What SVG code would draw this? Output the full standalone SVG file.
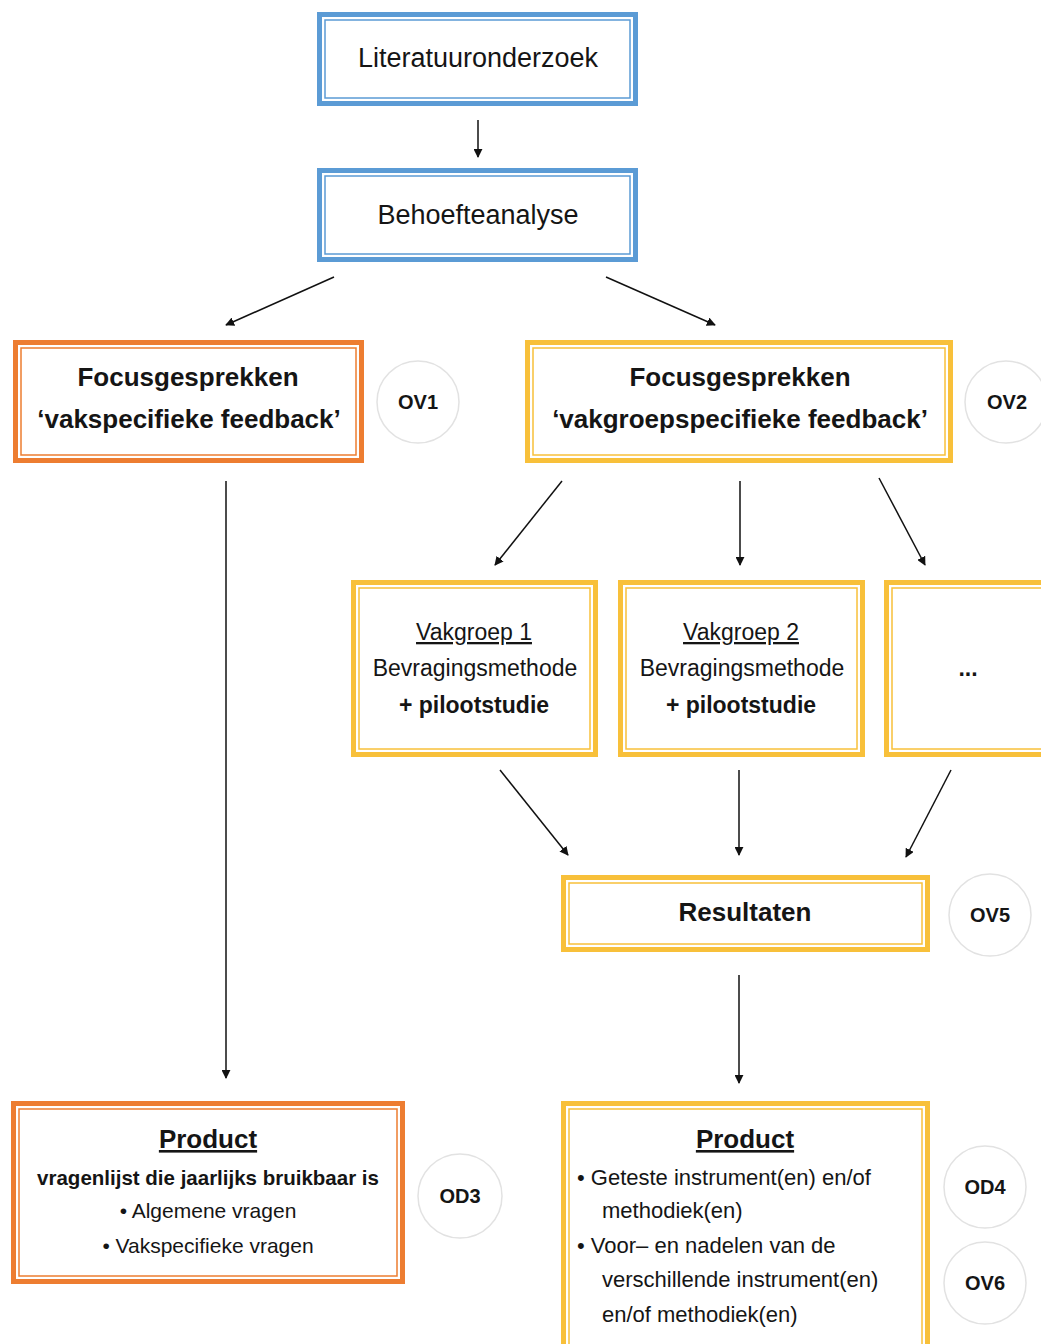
<svg xmlns="http://www.w3.org/2000/svg" width="1041" height="1344" viewBox="0 0 1041 1344">
<defs>
<marker id="ah" viewBox="0 0 10 10" refX="9" refY="5" markerWidth="9" markerHeight="9" markerUnits="userSpaceOnUse" orient="auto">
<path d="M0,0 L10,5 L0,10 Z" fill="#111"/>
</marker>
</defs>
<style>
text{font-family:"Liberation Sans",Arial,sans-serif;fill:#151515;}
.ob{fill:#fff;stroke:#5b9bd5;stroke-width:5}
.ib{fill:none;stroke:#5b9bd5;stroke-width:1.5}
.oo{fill:#fff;stroke:#ed7d31;stroke-width:5}
.io{fill:none;stroke:#ed7d31;stroke-width:1.5}
.oy{fill:#fff;stroke:#f8c03a;stroke-width:5}
.iy{fill:none;stroke:#f8c03a;stroke-width:1.5}
.c{fill:#fff;stroke:#e2e2e2;stroke-width:1.5}
.lbl{font-size:20px;font-weight:bold;text-anchor:middle}
.t27{font-size:27px;text-anchor:middle}
.h26{font-size:26px;font-weight:bold;text-anchor:middle}
.r23{font-size:23px;text-anchor:middle}
.b23{font-size:23px;font-weight:bold;text-anchor:middle}
.r21{font-size:21px}
.r22{font-size:22px}
.u{text-decoration:underline}
.cn{fill:none;stroke:#111;stroke-width:1.5;marker-end:url(#ah)}
</style>

<g id="connectors">
<line class="cn" x1="478" y1="120" x2="478" y2="157"/>
<line class="cn" x1="334" y1="277" x2="226" y2="325"/>
<line class="cn" x1="606" y1="277" x2="715" y2="325"/>
<line class="cn" x1="562" y1="481" x2="495" y2="565"/>
<line class="cn" x1="740" y1="481" x2="740" y2="565"/>
<line class="cn" x1="879" y1="478" x2="925" y2="565"/>
<line class="cn" x1="226" y1="481" x2="226" y2="1078"/>
<line class="cn" x1="500" y1="770" x2="568" y2="855"/>
<line class="cn" x1="739" y1="770" x2="739" y2="855"/>
<line class="cn" x1="951" y1="770" x2="906" y2="857"/>
<line class="cn" x1="739" y1="975" x2="739" y2="1083"/>
</g>

<g id="literatuuronderzoek">
<rect class="ob" x="319.5" y="14.5" width="316" height="89"/>
<rect class="ib" x="325" y="20" width="305" height="78"/>
<text class="t27" x="478" y="67">Literatuuronderzoek</text>
</g>

<g id="behoefteanalyse">
<rect class="ob" x="319.5" y="170.5" width="316" height="89"/>
<rect class="ib" x="325" y="176" width="305" height="78"/>
<text class="t27" x="478" y="224">Behoefteanalyse</text>
</g>

<g id="focus-vak">
<rect class="oo" x="15.5" y="342.5" width="346" height="118"/>
<rect class="io" x="21" y="348" width="335" height="107"/>
<text class="h26" x="188" y="386">Focusgesprekken</text>
<text class="h26" x="189" y="428">‘vakspecifieke feedback’</text>
</g>

<g id="ov1">
<circle class="c" cx="418" cy="402" r="41"/>
<text class="lbl" x="418" y="409">OV1</text>
</g>

<g id="focus-vakgroep">
<rect class="oy" x="527.5" y="342.5" width="423" height="118"/>
<rect class="iy" x="533" y="348" width="412" height="107"/>
<text class="h26" x="740" y="386">Focusgesprekken</text>
<text class="h26" x="740" y="428">‘vakgroepspecifieke feedback’</text>
</g>

<g id="ov2">
<circle class="c" cx="1006" cy="402" r="41"/>
<text class="lbl" x="1007" y="409">OV2</text>
</g>

<g id="vakgroep1">
<rect class="oy" x="353.5" y="582.5" width="242" height="172"/>
<rect class="iy" x="359" y="588" width="231" height="161"/>
<text class="r23 u" x="474" y="640">Vakgroep 1</text>
<text class="r23" x="475" y="676">Bevragingsmethode</text>
<text class="b23" x="474" y="713">+ pilootstudie</text>
</g>

<g id="vakgroep2">
<rect class="oy" x="620.5" y="582.5" width="242" height="172"/>
<rect class="iy" x="626" y="588" width="231" height="161"/>
<text class="r23 u" x="741" y="640">Vakgroep 2</text>
<text class="r23" x="742" y="676">Bevragingsmethode</text>
<text class="b23" x="741" y="713">+ pilootstudie</text>
</g>

<g id="vakgroep-more">
<rect class="oy" x="886.5" y="582.5" width="170" height="172"/>
<rect class="iy" x="892" y="588" width="170" height="161"/>
<text class="b23" x="968" y="676">...</text>
</g>

<g id="resultaten">
<rect class="oy" x="563.5" y="877.5" width="364" height="72"/>
<rect class="iy" x="569" y="883" width="353" height="61"/>
<text class="h26" x="745" y="921">Resultaten</text>
</g>

<g id="ov5">
<circle class="c" cx="990" cy="915" r="41"/>
<text class="lbl" x="990" y="922">OV5</text>
</g>

<g id="product-left">
<rect class="oo" x="13.5" y="1103.5" width="389" height="178"/>
<rect class="io" x="19" y="1109" width="378" height="167"/>
<text class="h26 u" x="208" y="1148">Product</text>
<text x="208" y="1185" font-size="20.5" font-weight="bold" text-anchor="middle">vragenlijst die jaarlijks bruikbaar is</text>
<text class="r21" x="208" y="1218" text-anchor="middle">• Algemene vragen</text>
<text class="r21" x="208" y="1253" text-anchor="middle">• Vakspecifieke vragen</text>
</g>

<g id="od3">
<circle class="c" cx="460" cy="1196" r="42"/>
<text class="lbl" x="460" y="1203">OD3</text>
</g>

<g id="product-right">
<rect class="oy" x="563.5" y="1103.5" width="364" height="260"/>
<rect class="iy" x="569" y="1109" width="353" height="250"/>
<text class="h26 u" x="745" y="1148">Product</text>
<text class="r22" x="577" y="1185">• Geteste instrument(en) en/of</text>
<text class="r22" x="602" y="1218">methodiek(en)</text>
<text class="r22" x="577" y="1253">• Voor– en nadelen van de</text>
<text class="r22" x="602" y="1287">verschillende instrument(en)</text>
<text class="r22" x="602" y="1322">en/of methodiek(en)</text>
</g>

<g id="od4">
<circle class="c" cx="985" cy="1187" r="41"/>
<text class="lbl" x="985" y="1194">OD4</text>
</g>

<g id="ov6">
<circle class="c" cx="985" cy="1283" r="41"/>
<text class="lbl" x="985" y="1290">OV6</text>
</g>
</svg>
